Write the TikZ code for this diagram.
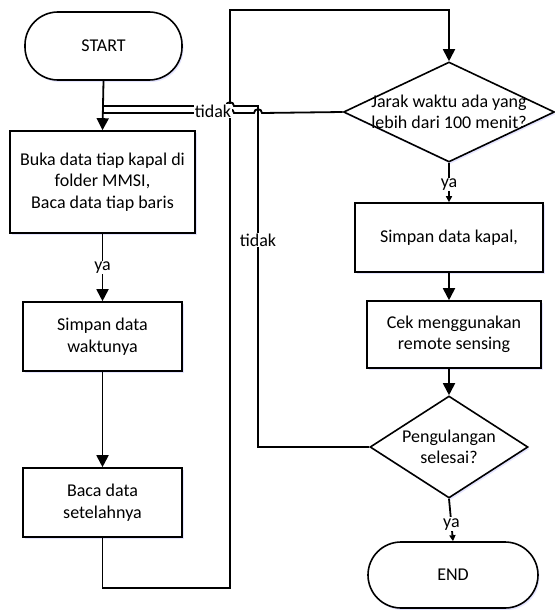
\documentclass[tikz,border=0pt]{standalone}
\usepackage{fontspec}
\setmainfont{Carlito}
\usetikzlibrary{shapes.geometric,arrows.meta,shadows}
\begin{document}
\begin{tikzpicture}[x=1pt,y=-1pt,
  every node/.style={font=\fontsize{18}{21.5}\selectfont},
  shad/.style={drop shadow={shadow xshift=1.5pt,shadow yshift=-2pt,fill=blue!30!white,opacity=0.35}},
  proc/.style={draw,fill=white,line width=1.6pt,rectangle,inner sep=0pt,align=center,shad},
  term/.style={draw,fill=white,line width=1.6pt,rectangle,rounded corners=33pt,inner sep=0pt,align=center,shad},
  dia/.style={draw,fill=white,line width=1.6pt,diamond,inner sep=0pt,shad},
  conn/.style={line width=1.8pt},
  bigarrow/.style={conn,-{Triangle[width=12pt,length=12pt]}},
  smallarrow/.style={conn,-{Triangle[width=6pt,length=6pt]}},
  lbl/.style={fill=white,inner sep=1pt}
]
\useasboundingbox (0,0) rectangle (554,610);
% nodes
\node[term,minimum width=157pt,minimum height=68pt] (start) at (103.5,46) {START};
\node[proc,minimum width=185pt,minimum height=102pt] (buka) at (102.5,182) {Buka data tiap kapal di\\folder MMSI,\\Baca data tiap baris};
\node[proc,minimum width=159pt,minimum height=69pt] (simpanw) at (102.5,336.5) {Simpan data\\waktunya};
\node[proc,minimum width=159pt,minimum height=69pt] (baca) at (102.5,502.5) {Baca data\\setelahnya};
\node[dia,minimum width=211pt,minimum height=100pt] (jarak) at (449,112) {};
\node[align=center] (jarakt) at (449,112) {Jarak waktu ada yang\\lebih dari 100 menit?};
\node[proc,minimum width=188pt,minimum height=69pt] (simpank) at (449,237.5) {Simpan data kapal,};
\node[proc,minimum width=174pt,minimum height=67pt] (cek) at (454,334.5) {Cek menggunakan\\remote sensing};
\node[dia,minimum width=158pt,minimum height=102pt] (peng) at (449,447) {};
\node[align=center] (pengt) at (449,447) {Pengulangan\\selesai?};
\node[term,minimum width=170pt,minimum height=66pt] (end) at (453,575) {END};
% coordinates
\coordinate (j1) at (103,106);
\coordinate (j2) at (103,113);
\coordinate (bl) at (102.5,588);
\coordinate (br) at (230,588);
\coordinate (tl) at (230,10);
\coordinate (tr) at (449,10);
\coordinate (pl) at (258,447);
\coordinate (pt) at (258,106);
% connectors
\draw[bigarrow] (start.south) -- (buka.north);
\draw[bigarrow] (buka.south) -- (simpanw.north) node[lbl,pos=0.5] (ya1) {ya};
\draw[bigarrow] (simpanw.south) -- (baca.north);
\draw[bigarrow] (baca.south) -- (bl) -- (br) -- (tl) -- (tr) -- (jarak.north);
\draw[smallarrow] (jarak.south) -- (simpank.north) node[lbl,pos=0.55] (ya2) {ya};
\draw[bigarrow] (simpank.south) -- (simpank.south |- cek.north);
\draw[bigarrow] (cek.south -| peng.north) -- (peng.north);
\draw[smallarrow] (peng.south) -- (end.north) node[lbl,pos=0.6] (ya3) {ya};
% loop back from Pengulangan (tidak)
\draw[conn] (peng.west) -- (pl) -- (pt) -- (234,106) .. controls (234,101) and (226,101) .. (226,106) -- (j1);
\node[lbl] (tidak2) at (258,240) {tidak};
% from Jarak (tidak)
\draw[conn] (jarak.west) -- (262,113) .. controls (262,108) and (254,108) .. (254,113) -- (234,113) .. controls (234,108) and (226,108) .. (226,113) -- (j2);
\node[lbl] (tidak1) at (213,111) {tidak};
\end{tikzpicture}
\end{document}
